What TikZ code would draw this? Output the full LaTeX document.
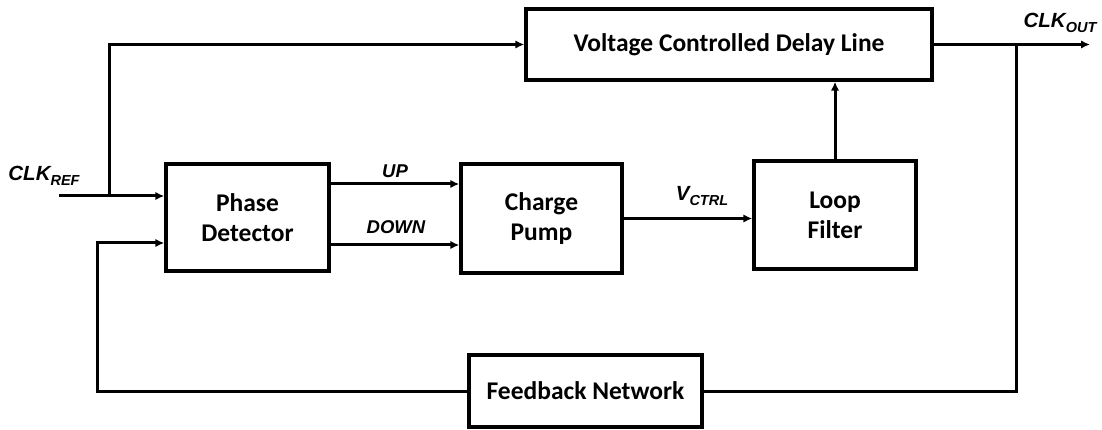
\documentclass[tikz,border=0pt]{standalone}
\usepackage{fontspec}
\setmainfont{Carlito}
\newfontfamily\arialfont{Liberation Sans}
\usetikzlibrary{arrows.meta,positioning,calc}

\newcommand{\sig}[2]{{\arialfont\bfseries\itshape #1\raisebox{-0.45ex}{\fontsize{14.5}{14.5}\selectfont #2}}}

\begin{document}
\begin{tikzpicture}[x=1pt, y=-1pt,
    box/.style={rectangle, draw=black, line width=3.4pt, fill=white, inner sep=0pt,
        align=center, font=\fontsize{25.5}{30}\selectfont\bfseries},
    lbl/.style={font=\fontsize{20.5}{20.5}\selectfont, inner sep=0pt},
    sublbl/.style={font=\arialfont\bfseries\itshape\fontsize{18.5}{18.5}\selectfont, inner sep=0pt},
    arr/.style={-{Latex[length=9pt, width=8.5pt]}, line width=3pt},
    wire/.style={line width=3pt},
]
\useasboundingbox (0,0) rectangle (1102,430);

% Blocks
\node[box, minimum width=406pt, minimum height=71pt] (vcdl) at (729,44.5) {Voltage Controlled Delay Line};
\node[box, minimum width=163pt, minimum height=107pt] (pd) at (247.5,217.5) {Phase\\Detector};
\node[box, minimum width=161pt, minimum height=109pt] (cp) at (541.5,218.5) {Charge\\Pump};
\node[box, minimum width=162pt, minimum height=108pt] (lf) at (835,215) {Loop\\Filter};
\node[box, minimum width=233pt, minimum height=72pt] (fb) at (585.5,391) {Feedback Network};

% Reference clock in
\coordinate (ref) at (59,196);
\coordinate (br) at (109,196);
\node[lbl, anchor=south] (reflbl) at (44,186) {\sig{CLK}{REF}};
\draw[arr] (ref) -- (ref -| pd.west);
\draw[arr] (br) |- (vcdl.west);

% PD to CP
\draw[arr] ([yshift=33.5pt]pd.east) -- ([yshift=33.5pt]pd.east -| cp.west);
\draw[arr] ([yshift=-27.5pt]pd.east) -- ([yshift=-27.5pt]pd.east -| cp.west);
\node[sublbl] (up) at (395,171) {UP};
\node[sublbl] (down) at (396,227) {DOWN};

% CP to LF to VCDL
\draw[arr] (cp.east) -- (cp.east -| lf.west);
\node[lbl, anchor=south] (vctrl) at (702,206) {\sig{V}{CTRL}};
\draw[arr] (lf.north) -- (lf.north |- vcdl.south);

% Output and feedback
\coordinate (out) at (1090,44.5);
\coordinate (tap) at (1016,44.5);
\node[lbl, anchor=south] (outlbl) at (1060,33) {\sig{CLK}{OUT}};
\draw[arr] (vcdl.east) -- (out);
\draw[wire] (tap) |- (fb.east);
\draw[arr] (fb.west) -- ++(-370,0) |- ([yshift=-25.5pt]pd.west);

\end{tikzpicture}
\end{document}
